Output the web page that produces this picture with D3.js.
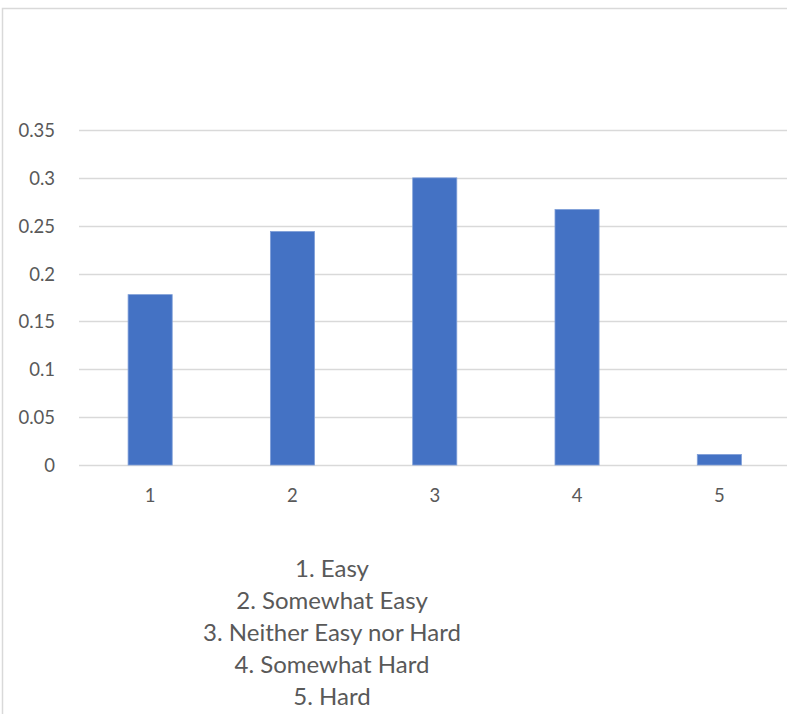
<!DOCTYPE html>
<html>
<head>
<meta charset="utf-8">
<script src="https://cdn.jsdelivr.net/npm/d3@7"></script>
<style>
  html, body { margin: 0; padding: 0; background: #fff; overflow: hidden; }
  svg { display: block; }
</style>
</head>
<body>
<svg id="chart" width="787" height="714"></svg>
<script>
// Survey responses: share of respondents per difficulty rating
const categories = ["1", "2", "3", "4", "5"];
const shares = [0.178, 0.244, 0.3, 0.267, 0.011];
const yTicks = [0, 0.05, 0.1, 0.15, 0.2, 0.25, 0.3, 0.35];
const legendLines = [
  "1. Easy",
  "2. Somewhat Easy",
  "3. Neither Easy nor Hard",
  "4. Somewhat Hard",
  "5. Hard"
];

const svg = d3.select("#chart");
const font = "Lato, 'Open Sans', sans-serif";
const textColor = "#595959";

// chart frame
svg.append("rect")
  .attr("x", 2.5).attr("y", 8.5)
  .attr("width", 800).attr("height", 720)
  .attr("fill", "#fff")
  .attr("stroke", "#d9d9d9")
  .attr("stroke-width", 1.5);

const plot = { left: 79, right: 790.5, top: 130, bottom: 465 };

const x = d3.scaleBand()
  .domain(categories)
  .range([plot.left, plot.right])
  .paddingInner(0.69)
  .paddingOuter(0.345);

const y = d3.scaleLinear()
  .domain([0, 0.35])
  .range([plot.bottom, plot.top]);

// horizontal gridlines
svg.append("g")
  .selectAll("line")
  .data(yTicks)
  .join("line")
  .attr("x1", plot.left).attr("x2", plot.right)
  .attr("y1", d => Math.round(y(d)) + 0.5)
  .attr("y2", d => Math.round(y(d)) + 0.5)
  .attr("stroke", "#d9d9d9")
  .attr("stroke-width", 1.3);

// y-axis labels
const yAxis = d3.axisLeft(y)
  .tickValues(yTicks)
  .tickFormat(d => String(+d.toFixed(2)))
  .tickSize(0)
  .tickPadding(0);

svg.append("g")
  .attr("transform", `translate(55,0)`)
  .call(yAxis)
  .call(g => g.select(".domain").remove())
  .call(g => g.selectAll("text")
    .attr("fill", textColor)
    .attr("font-family", font)
    .attr("font-size", 18.5)
    .attr("dy", "0.35em"));

// bars
svg.append("g")
  .selectAll("rect")
  .data(shares)
  .join("rect")
  .attr("x", (d, i) => x(categories[i]))
  .attr("width", x.bandwidth())
  .attr("y", d => y(d))
  .attr("height", d => y(0) - y(d))
  .attr("fill", "#4472c4")
  .attr("stroke", "#7f9fd8")
  .attr("stroke-width", 0.8);

// x-axis labels
const xAxis = d3.axisBottom(x).tickSize(0).tickPadding(0);
svg.append("g")
  .attr("transform", `translate(0,${plot.bottom})`)
  .call(xAxis)
  .call(g => g.select(".domain").remove())
  .call(g => g.selectAll("text")
    .attr("fill", textColor)
    .attr("font-family", font)
    .attr("font-size", 18.5)
    .attr("y", 31)
    .attr("dy", "0.35em"));

// category key below the chart
svg.append("g")
  .selectAll("text")
  .data(legendLines)
  .join("text")
  .attr("x", 332)
  .attr("y", (d, i) => 569 + i * 32)
  .attr("dy", "0.35em")
  .attr("text-anchor", "middle")
  .attr("fill", textColor)
  .attr("font-family", font)
  .attr("font-size", 24)
  .text(d => d);
</script>
</body>
</html>
